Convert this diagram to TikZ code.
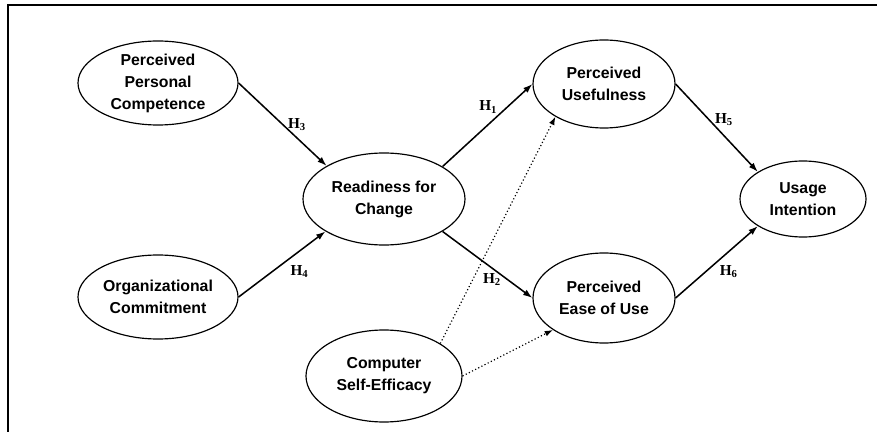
\documentclass[tikz,border=0pt]{standalone}
\usepackage{fontspec}
\setmainfont{Liberation Sans}
\newfontfamily\hypfont{Liberation Serif}
\usetikzlibrary{shapes.geometric,arrows.meta}

\tikzset{
  construct/.style={draw, ellipse, line width=1pt, inner sep=0pt, align=center,
    font=\fontsize{13.5}{18.8}\selectfont\bfseries},
  link/.style={-{Latex[length=8pt,width=5.5pt]}, line width=1.3pt},
  dotlink/.style={-{Latex[length=7pt,width=5pt]}, line width=1pt, dotted},
  hyp/.style={font=\fontsize{13}{14}\hypfont\bfseries, inner sep=1pt}
}

\begin{document}
\begin{tikzpicture}[x=0.03cm, y=-0.03cm]
\clip (0,0) rectangle (877,432);
\draw[line width=1.6pt] (8,5) rectangle (895,450);

% Antecedents
\node[construct, minimum width=4.8cm, minimum height=2.52cm] (ppc) at (158,83) {Perceived\\Personal\\Competence};
\node[construct, minimum width=4.8cm, minimum height=2.52cm] (oc) at (158,297) {Organizational\\Commitment};
\node[construct, minimum width=4.68cm, minimum height=2.76cm] (cse) at (384,376) {Computer\\Self-Efficacy};

% Readiness
\node[construct, minimum width=4.86cm, minimum height=2.76cm] (roc) at (384,199) {Readiness for\\Change};

% TAM constructs
\node[construct, minimum width=4.26cm, minimum height=2.64cm] (pu) at (604,84) {Perceived\\Usefulness};
\node[construct, minimum width=4.26cm, minimum height=2.7cm] (peou) at (604,298) {Perceived\\Ease of Use};
\node[construct, minimum width=3.78cm, minimum height=2.28cm] (ui) at (803,199) {Usage\\Intention};

% Hypotheses
\draw[link] (ppc.east) -- (roc.150) node[hyp, pos=0.5, right=3pt] {H\textsubscript{3}};
\draw[link] (oc.east) -- (roc.209) node[hyp, pos=0.55, below right=2pt] {H\textsubscript{4}};
\draw[link] (roc.29) -- (pu.west) node[hyp, pos=0.72, left=7pt] {H\textsubscript{1}};
\draw[link] (roc.-29) -- (peou.west) node[hyp, pos=0.55, below=3pt] {H\textsubscript{2}};
\draw[link] (pu.east) -- (ui.149) node[hyp, pos=0.4, right=4pt] {H\textsubscript{5}};
\draw[link] (peou.east) -- (ui.211) node[hyp, pos=0.5, below right=1pt] {H\textsubscript{6}};

% Self-efficacy
\draw[dotlink] (cse.30) -- (pu.214);
\draw[dotlink] (cse.east) -- (peou.212);
\end{tikzpicture}
\end{document}
